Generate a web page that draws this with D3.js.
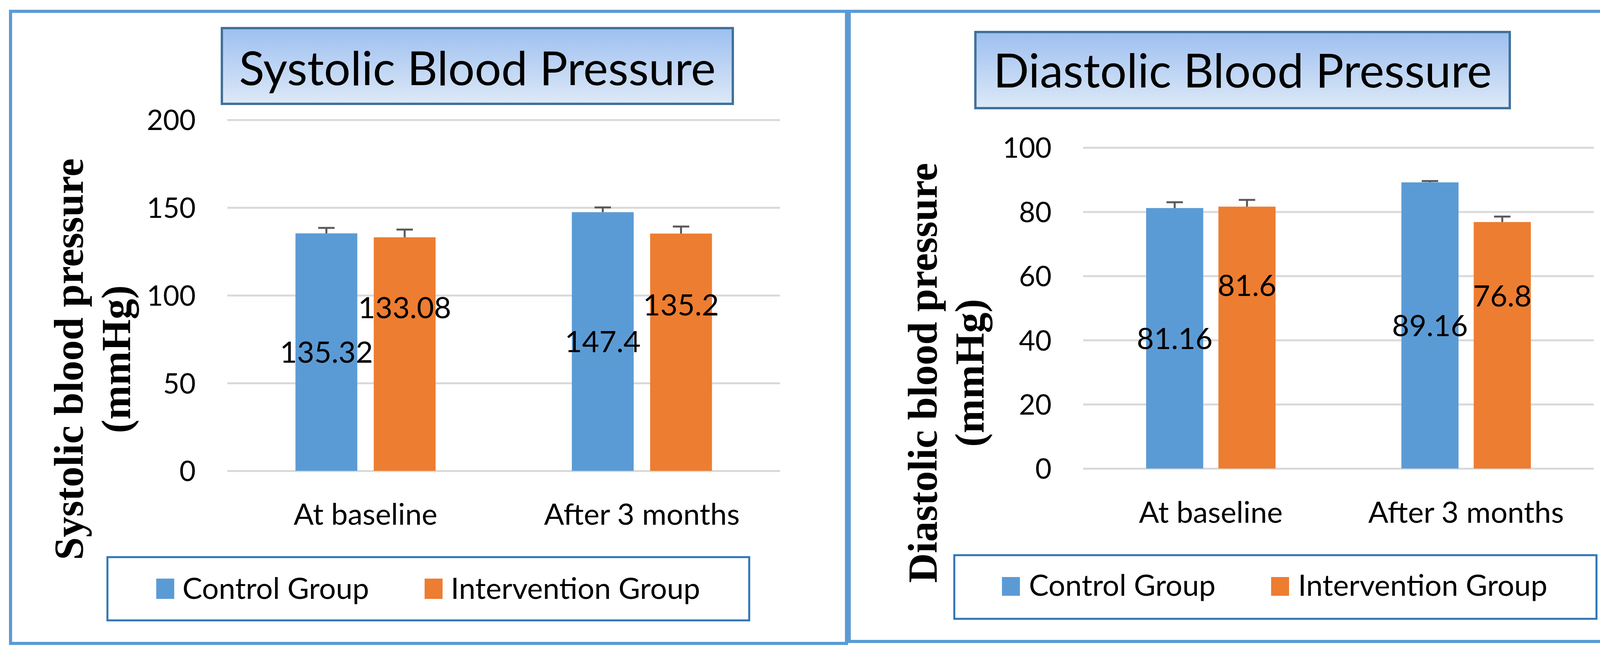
<!DOCTYPE html>
<html>
<head>
<meta charset="utf-8">
<script src="https://cdn.jsdelivr.net/npm/d3@7"></script>
<style>
  html, body { margin: 0; padding: 0; background: #ffffff; }
  svg { display: block; }
</style>
</head>
<body>
<svg id="chart" width="4212" height="1670"></svg>
<script>
// ---------------- DATA ----------------
const categories = ["At baseline", "After 3 months"];
const seriesNames = ["Control Group", "Intervention Group"];

const systolicControl = [135.32, 147.4];
const systolicIntervention = [133.08, 135.2];
const systolicControlErr = [3.1, 2.7];
const systolicInterventionErr = [4.4, 4.0];
const systolicTicks = [0, 50, 100, 150, 200];

const diastolicControl = [81.16, 89.16];
const diastolicIntervention = [81.6, 76.8];
const diastolicControlErr = [1.8, 0.4];
const diastolicInterventionErr = [2.1, 1.7];
const diastolicTicks = [0, 20, 40, 60, 80, 100];

const chartTitles = ["Systolic Blood Pressure", "Diastolic Blood Pressure"];
const yTitles = [["Systolic blood pressure", "(mmHg)"], ["Diastolic blood pressure", "(mmHg)"]];

// ---------------- STYLE / LAYOUT ----------------
const colors = ["#5b9bd5", "#ed7d31"];
const sansFont = "Lato, 'Open Sans', sans-serif";
const serifFont = "'Liberation Serif', 'DejaVu Serif', serif";
const labelFrac = [0.5, 0.7];

const layouts = [
  {
    panel: {x: 27, y: 29, w: 2140, h: 1619},
    titleBox: {x: 568, y: 72, w: 1308, h: 194, baseline: 218},
    plot: {left: 582, right: 1997, bottom: 1206, top: 307},
    yTitleX: [212, 333], yTitleY: 920,
    catPad: 84,
    legendBox: {x: 275, y: 1427, w: 1643, h: 162},
    legendX: [400, 1087], legendY: 1482, swW: 46, swH: 52, legendGap: 21
  },
  {
    panel: {x: 2174, y: 29, w: 2014, h: 1614},
    titleBox: {x: 2497, y: 82, w: 1368, h: 195, baseline: 224},
    plot: {left: 2773, right: 4080, bottom: 1200, top: 378},
    yTitleX: [2398, 2518], yTitleY: 955,
    catPad: 85,
    legendBox: {x: 2443, y: 1422, w: 1644, h: 163},
    legendX: [2565, 3254], legendY: 1478, swW: 46, swH: 48, legendGap: 23
  }
];

const charts = [
  {values: [systolicControl, systolicIntervention], errs: [systolicControlErr, systolicInterventionErr], ticks: systolicTicks},
  {values: [diastolicControl, diastolicIntervention], errs: [diastolicControlErr, diastolicInterventionErr], ticks: diastolicTicks}
];

const svg = d3.select("#chart");
svg.append("rect").attr("width", 4212).attr("height", 1670).attr("fill", "#ffffff");

const defs = svg.append("defs");
const grad = defs.append("linearGradient").attr("id", "titleGrad")
  .attr("x1", 0).attr("y1", 0).attr("x2", 0).attr("y2", 1);
grad.append("stop").attr("offset", "0%").attr("stop-color", "#9dbff0");
grad.append("stop").attr("offset", "100%").attr("stop-color", "#dde9f7");

charts.forEach((c, ci) => {
  const L = layouts[ci];
  const g = svg.append("g");

  // panel border
  g.append("rect")
    .attr("x", L.panel.x).attr("y", L.panel.y)
    .attr("width", L.panel.w).attr("height", L.panel.h)
    .attr("fill", "none").attr("stroke", "#5b9bd5").attr("stroke-width", 8);

  // scales
  const yMax = c.ticks[c.ticks.length - 1];
  const y = d3.scaleLinear().domain([0, yMax]).range([L.plot.bottom, L.plot.top]);
  const x0 = d3.scaleBand().domain(categories).range([L.plot.left, L.plot.right])
    .paddingInner(0.493).paddingOuter(0.2465);
  const x1 = d3.scaleBand().domain(seriesNames).range([0, x0.bandwidth()]).paddingInner(0.21);

  // gridlines + y tick labels
  const yAxis = d3.axisLeft(y).tickValues(c.ticks)
    .tickSize(-(L.plot.right - L.plot.left)).tickPadding(81).tickFormat(d3.format("d"));
  const ya = g.append("g").attr("transform", `translate(${L.plot.left},0)`).call(yAxis);
  ya.select(".domain").remove();
  ya.selectAll(".tick line").attr("stroke", "#d9d9d9").attr("stroke-width", 5);
  ya.selectAll(".tick text").attr("font-family", sansFont).attr("font-size", 72)
    .attr("fill", "#000").attr("dy", "0.36em");

  // category axis
  const xAxis = d3.axisBottom(x0).tickSize(0).tickPadding(L.catPad);
  const xa = g.append("g").attr("transform", `translate(0,${L.plot.bottom})`).call(xAxis);
  xa.select(".domain").remove();
  xa.selectAll(".tick text").attr("font-family", sansFont).attr("font-size", 76).attr("fill", "#000");

  // bars
  const rows = [];
  categories.forEach((cat, i) => {
    seriesNames.forEach((s, si) => {
      rows.push({cat, s, si, v: c.values[si][i], e: c.errs[si][i]});
    });
  });

  const bx = d => x0(d.cat) + x1(d.s);
  g.selectAll(".bar").data(rows).join("rect").attr("class", "bar")
    .attr("x", bx).attr("width", x1.bandwidth())
    .attr("y", d => y(d.v)).attr("height", d => y(0) - y(d.v))
    .attr("fill", d => colors[d.si]);

  // error bars (plus only)
  const capW = 42;
  const eb = g.selectAll(".err").data(rows).join("g").attr("class", "err")
    .attr("stroke", "#595959").attr("stroke-width", 5);
  eb.append("line")
    .attr("x1", d => bx(d) + x1.bandwidth() / 2).attr("x2", d => bx(d) + x1.bandwidth() / 2)
    .attr("y1", d => y(d.v)).attr("y2", d => y(d.v + d.e));
  eb.append("line")
    .attr("x1", d => bx(d) + x1.bandwidth() / 2 - capW / 2).attr("x2", d => bx(d) + x1.bandwidth() / 2 + capW / 2)
    .attr("y1", d => y(d.v + d.e)).attr("y2", d => y(d.v + d.e));

  // data labels
  g.selectAll(".lbl").data(rows).join("text").attr("class", "lbl")
    .attr("x", d => bx(d) + x1.bandwidth() / 2)
    .attr("y", d => y(d.v * labelFrac[d.si]))
    .attr("dy", "0.36em")
    .attr("text-anchor", "middle")
    .attr("font-family", sansFont).attr("font-size", 76).attr("fill", "#000")
    .text(d => d3.format("~")(d.v));

  // title box
  g.append("rect")
    .attr("x", L.titleBox.x).attr("y", L.titleBox.y)
    .attr("width", L.titleBox.w).attr("height", L.titleBox.h)
    .attr("fill", "url(#titleGrad)").attr("stroke", "#41719c").attr("stroke-width", 6);
  g.append("text")
    .attr("x", L.titleBox.x + L.titleBox.w / 2).attr("y", L.titleBox.baseline)
    .attr("text-anchor", "middle")
    .attr("font-family", sansFont).attr("font-size", 120).attr("fill", "#000")
    .text(chartTitles[ci]);

  // y-axis title
  const yt = g.append("text")
    .attr("transform", "rotate(-90)")
    .attr("text-anchor", "middle")
    .attr("font-family", serifFont).attr("font-weight", "bold")
    .attr("font-size", 105).attr("fill", "#000");
  yTitles[ci].forEach((line, li) => {
    yt.append("tspan").attr("x", -L.yTitleY).attr("y", L.yTitleX[li]).text(line);
  });

  // legend
  g.append("rect")
    .attr("x", L.legendBox.x).attr("y", L.legendBox.y)
    .attr("width", L.legendBox.w).attr("height", L.legendBox.h)
    .attr("fill", "#fff").attr("stroke", "#2e75b6").attr("stroke-width", 5);
  seriesNames.forEach((s, si) => {
    g.append("rect")
      .attr("x", L.legendX[si]).attr("y", L.legendY)
      .attr("width", L.swW).attr("height", L.swH).attr("fill", colors[si]);
    g.append("text")
      .attr("x", L.legendX[si] + L.swW + L.legendGap).attr("y", L.legendY + L.swH)
      .attr("font-family", sansFont).attr("font-size", 76).attr("fill", "#000")
      .text(s);
  });
});
</script>
</body>
</html>
